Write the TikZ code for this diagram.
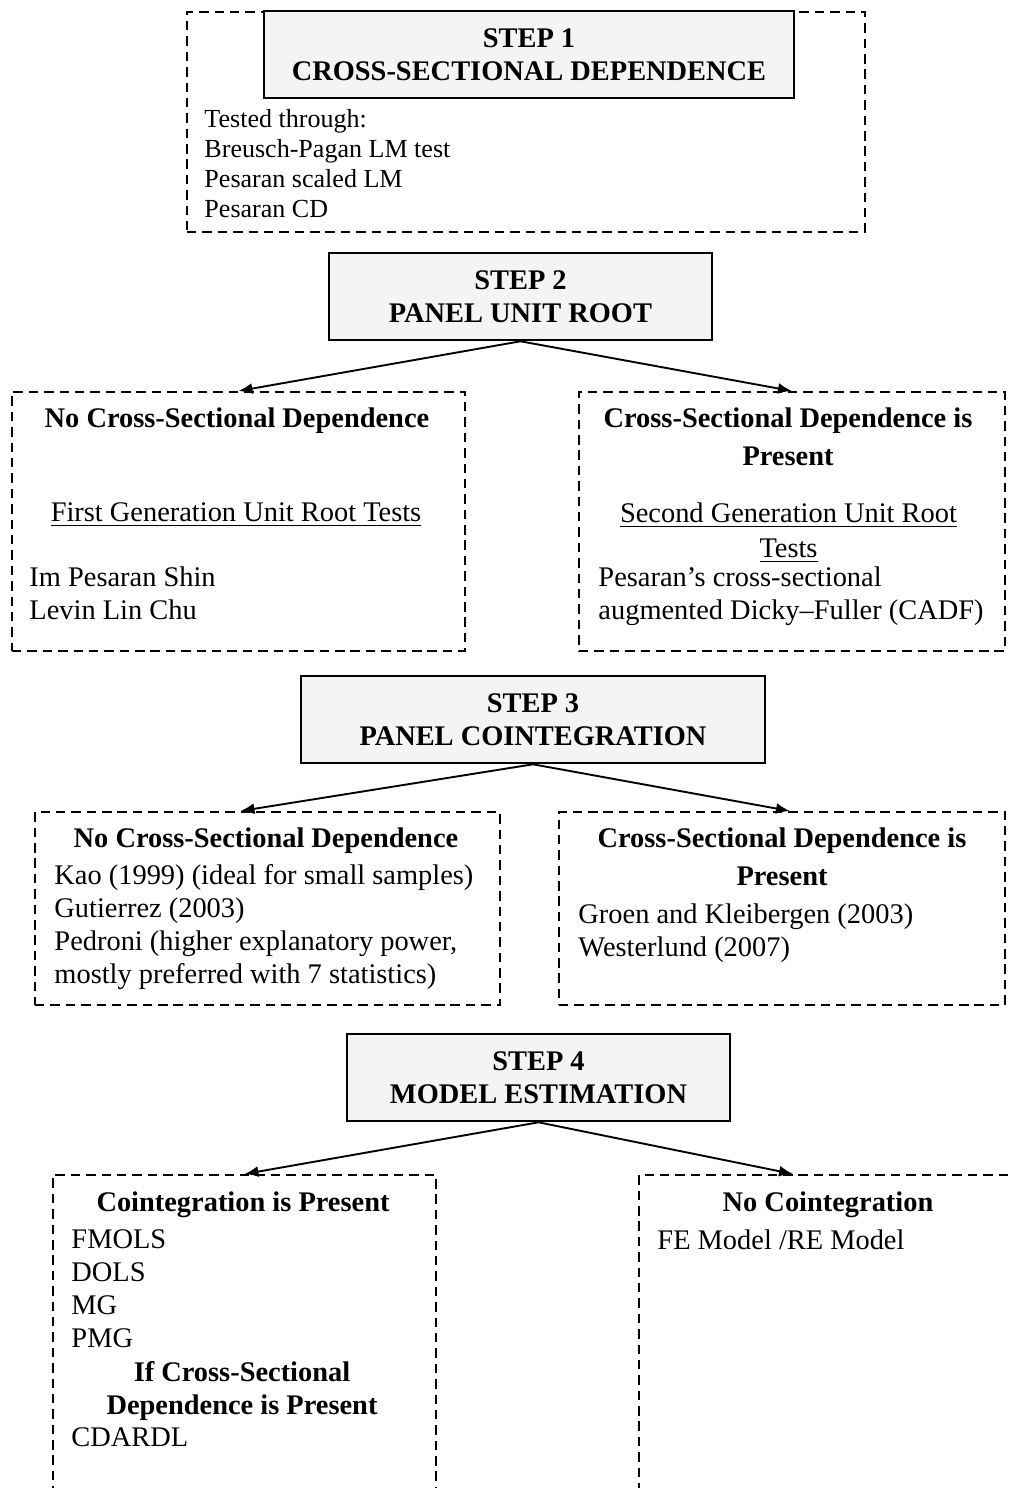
\documentclass[tikz,border=0pt]{standalone}
\usepackage{fontspec}
\setmainfont{Liberation Serif}
\usetikzlibrary{arrows.meta}
\newlength{\pxu}
\setlength{\pxu}{0.4224pt}

\begin{document}
\begin{tikzpicture}[x=0.4224pt,y=-0.4224pt]

\tikzset{stepbox/.style = {draw,line width=1.1pt,fill=gray!9,align=center,inner sep=0pt,minimum height=87\pxu,font=\bfseries\fontsize{12}{13.9}\selectfont}}
\tikzset{dashbox/.style = {draw,line width=0.8pt,dash pattern=on 4pt off 2.5pt,anchor=north west,inner sep=0pt}}
\tikzset{head/.style = {anchor=north,inner sep=0pt,align=center,font=\bfseries\fontsize{12}{16}\selectfont}}
\tikzset{gen/.style = {anchor=north,inner sep=0pt,align=center,font=\fontsize{12}{14.8}\selectfont}}
\tikzset{txt/.style = {anchor=north west,inner sep=0pt,align=left,font=\fontsize{12}{13.9}\selectfont}}
\tikzset{edge/.style = {-{Latex[length=5.9pt,width=4.6pt]},line width=0.8pt}}

\path[use as bounding box,clip] (0,0) rectangle (1009,1488);

%boxes
\node[dashbox,minimum width=678\pxu,minimum height=220\pxu] (cds) at (186,11) {};
\node[stepbox,minimum width=530\pxu] (step1) at (529,54.5) {STEP 1\\CROSS-SECTIONAL DEPENDENCE};
\node[txt,font=\fontsize{11}{12.67}\selectfont] (cds-list) at (204,109) {Tested through:\\Breusch-Pagan LM test\\Pesaran scaled LM\\Pesaran CD};

\node[stepbox,minimum width=383\pxu] (step2) at (520.5,296.5) {STEP 2\\PANEL UNIT ROOT};
\node[dashbox,minimum width=453\pxu,minimum height=259\pxu] (unitL) at (11,391) {};
\node[dashbox,minimum width=426\pxu,minimum height=259\pxu] (unitR) at (578,391) {};
\node[head] (unitL-head) at (237,407.8) {No Cross-Sectional Dependence};
\node[gen] (unitL-gen) at (236,502.6) {\underline{First Generation Unit Root Tests}};
\node[txt] (unitL-list) at (29,566.6) {Im Pesaran Shin\\Levin Lin Chu};
\node[head] (unitR-head) at (788,407.8) {Cross-Sectional Dependence is\\Present};
\node[gen] (unitR-gen) at (788.5,502.6) {\underline{Second Generation Unit Root}\\\underline{Tests}};
\node[txt] (unitR-list) at (598,566.6) {Pesaran’s cross-sectional\\augmented Dicky–Fuller (CADF)};

\node[stepbox,minimum width=464\pxu] (step3) at (533,719.5) {STEP 3\\PANEL COINTEGRATION};
\node[dashbox,minimum width=465\pxu,minimum height=193\pxu] (coinL) at (34,811) {};
\node[dashbox,minimum width=446\pxu,minimum height=193\pxu] (coinR) at (558,811) {};
\node[head] (coinL-head) at (266,827.8) {No Cross-Sectional Dependence};
\node[txt] (coinL-list) at (54,864.3) {Kao (1999) (ideal for small samples)\\Gutierrez (2003)\\Pedroni (higher explanatory power,\\mostly preferred with 7 statistics)};
\node[head] (coinR-head) at (782,827.8) {Cross-Sectional Dependence is\\Present};
\node[txt] (coinR-list) at (578,903.3) {Groen and Kleibergen (2003)\\Westerlund (2007)};

\node[stepbox,minimum width=383\pxu] (step4) at (538.5,1077.5) {STEP 4\\MODEL ESTIMATION};
\node[dashbox,minimum width=383\pxu,minimum height=400\pxu] (estL) at (52,1174) {};
\node[dashbox,minimum width=400\pxu,minimum height=400\pxu] (estR) at (638,1174) {};
\node[head] (estL-head) at (243,1191.8) {Cointegration is Present};
\node[txt] (estL-list) at (71,1229) {FMOLS\\DOLS\\MG\\PMG};
\node[head,font=\bfseries\fontsize{12}{13.9}\selectfont] (estL-sub) at (242,1360.8) {If Cross-Sectional\\Dependence is Present};
\node[txt] (estL-tail) at (71,1427) {CDARDL};
\node[head] (estR-head) at (828,1191.8) {No Cointegration};
\node[txt] (estR-list) at (657,1229.6) {FE Model /RE Model};

%edges
\draw[edge] (step2.south) -- (unitL.north);
\draw[edge] (step2.south) -- (unitR.north);
\draw[edge] (step3.south) -- ([xshift=-27\pxu]coinL.north);
\draw[edge] (step3.south) -- ([xshift=8\pxu]coinR.north);
\draw[edge] (step4.south) -- (estL.north);
\draw[edge] (step4.south) -- ([xshift=155\pxu]estR.north west);

\end{tikzpicture}
\end{document}
